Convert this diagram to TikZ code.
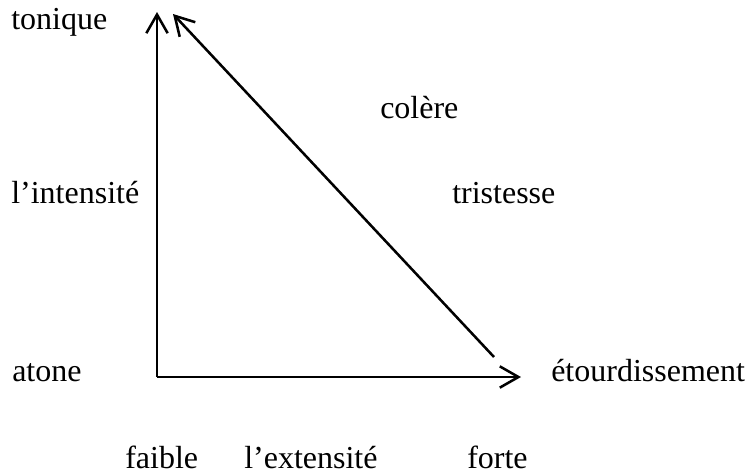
\documentclass[tikz,border=0pt]{standalone}
\usepackage{fontspec}
\setmainfont{Liberation Serif}
\usetikzlibrary{arrows.meta}
\begin{document}
\begin{tikzpicture}[x=0.75pt,y=-0.75pt,
  lbl/.style={anchor=base west,inner sep=0pt,font=\fontsize{24}{29}\selectfont},
  axis/.style={line width=1.9pt,-{Straight Barb[length=14pt,width=16pt,line width=1.9pt]}}]
\useasboundingbox (0,0) rectangle (752,475);
\coordinate (O) at (157,377);
\coordinate (Ytop) at (157,12);
\coordinate (Xend) at (521,377);
\coordinate (Dstart) at (494,357);
\coordinate (Dend) at (173,14);
\draw[axis] (O) -- (Ytop);
\draw[axis] (O) -- (Xend);
\draw[axis] (Dstart) -- (Dend);
\node[lbl] (tonique) at (11,29) {tonique};
\node[lbl] (intensite) at (11,203) {l’intensité};
\node[lbl] (atone) at (12,381) {atone};
\node[lbl] (colere) at (380,118) {colère};
\node[lbl] (tristesse) at (452,203) {tristesse};
\node[lbl] (etourd) at (551,381) {étourdissement};
\node[lbl] (faible) at (125,468) {faible};
\node[lbl] (extensite) at (244,468) {l’extensité};
\node[lbl] (forte) at (467,468) {forte};
\end{tikzpicture}
\end{document}
